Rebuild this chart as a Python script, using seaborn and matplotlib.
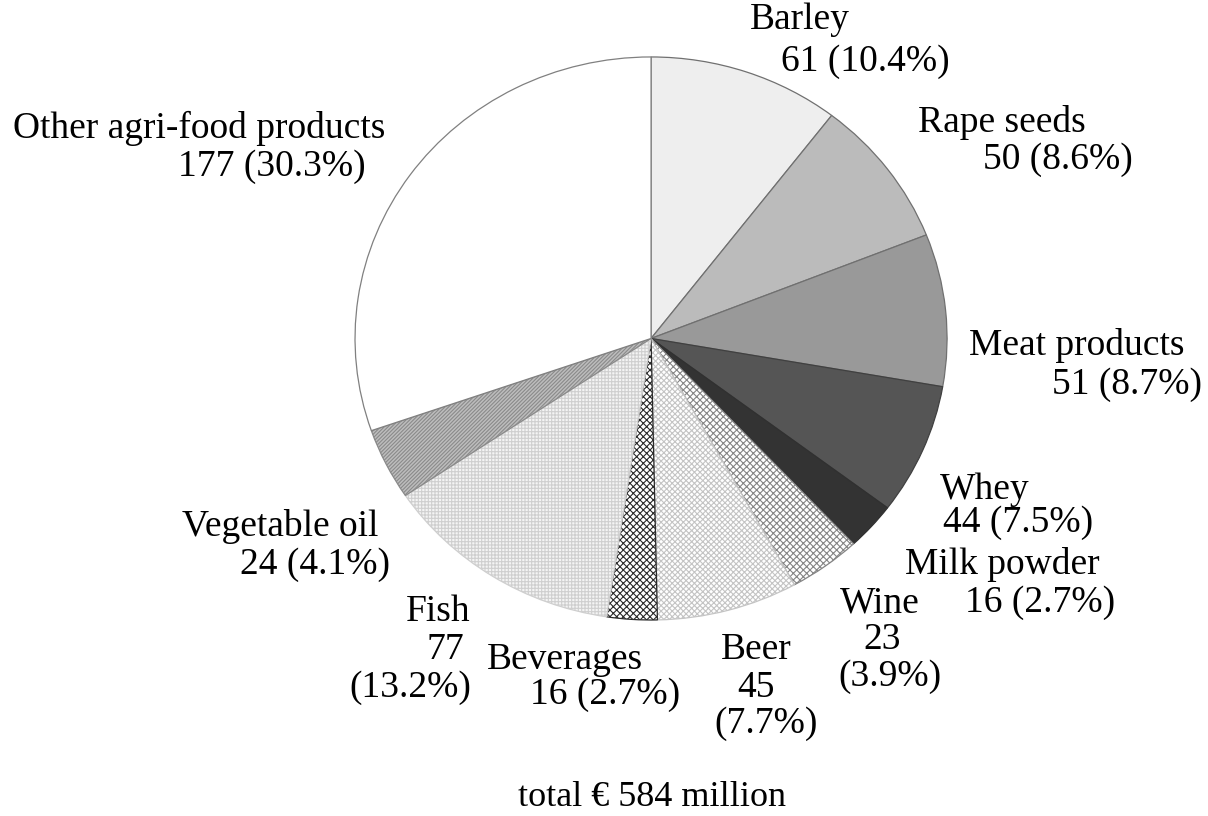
import numpy as np
import matplotlib
matplotlib.use("Agg")
import matplotlib.pyplot as plt
import seaborn as sns

# Export values (million euro), clockwise from 12 o'clock
products = ["Barley", "Rape seeds", "Meat products", "Whey", "Milk powder", "Wine",
            "Beer", "Beverages", "Fish", "Vegetable oil", "Other agri-food products"]
values = [61, 50, 51, 44, 16, 23, 45, 16, 77, 24, 177]
total = sum(values)
shares = [round(100 * v / total, 1) for v in values]

sns.set_theme(style="white")
plt.rcParams["font.family"] = ["Liberation Serif", "DejaVu Serif"]
plt.rcParams["hatch.linewidth"] = 0.8

fig = plt.figure(figsize=(12.08, 8.16), dpi=100)
# axes sized so the pie fills the area of the original
ax = fig.add_axes([0.2939, 0.2402, 0.4901, 0.690])

face = ["#eeeeee", "#bbbbbb", "#999999", "#555555", "#333333", "white",
        "white", "white", "#f4f4f4", "#bdbdbd", "white"]
hatches = [None, None, None, None, None, "xxxxx", "xxxxxx", "xxxxx", "+++++", "/////////", None]
hcolor = ["#707070", "#707070", "#707070", "#404040", "#303030", "#858585",
          "#c4c4c4", "#2a2a2a", "#cfcfcf", "#8a8a8a", "#808080"]

wedges, _ = ax.pie(values, startangle=90, counterclock=False, colors=face,
                   wedgeprops=dict(linewidth=0.9))
for w, h, c in zip(wedges, hatches, hcolor):
    w.set_edgecolor(c)
    if h:
        w.set_hatch(h)
ax.set_aspect("auto")
ax.set_xlim(-1, 1)
ax.set_ylim(-1, 1)
ax.axis("off")

fs = 27
# label layout: pixel centres of the two/three lines for each slice
layout = {
    "Barley": [(800, 20), (865, 62)],
    "Rape seeds": [(1002, 123), (1058, 160)],
    "Meat products": [(1077, 345), (1127, 385)],
    "Whey": [(985, 490), (1018, 523)],
    "Milk powder": [(1002, 565), (1040, 603)],
    "Wine": [(880, 603), (882, 640), (890, 677)],
    "Beer": [(756, 650), (756, 688), (766, 724)],
    "Beverages": [(565, 660), (605, 695)],
    "Fish": [(438, 612), (445, 650), (410, 688)],
    "Vegetable oil": [(280, 527), (315, 565)],
    "Other agri-food products": [(199, 128), (272, 167)],
}

W, H = 1208, 816
for name, v, p in zip(products, values, shares):
    pos = layout[name]
    if len(pos) == 2:
        lines = [name, f"{v} ({p}%)"]
    else:
        lines = [name, f"{v}", f"({p}%)"]
    for txt, (x, y) in zip(lines, pos):
        fig.text(x / W, 1 - y / H, txt, ha="center", va="center", fontsize=fs, color="black")

fig.text(652 / W, 1 - 797 / H, f"total \u20ac {total} million", ha="center", va="center",
         fontsize=26, color="black")

fig.savefig("out.png", dpi=100, facecolor="white")
